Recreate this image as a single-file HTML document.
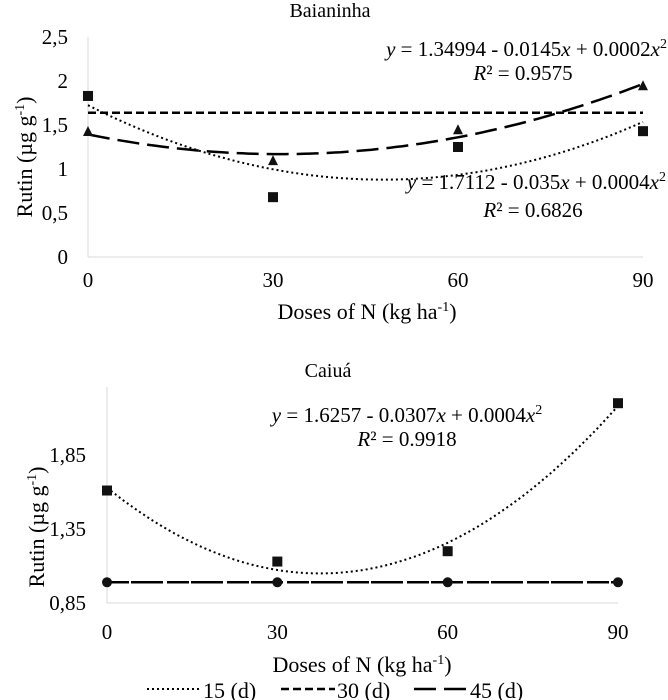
<!DOCTYPE html>
<html><head><meta charset="utf-8">
<style>
html,body{margin:0;padding:0;background:#fff;}
svg{display:block;font-family:"Liberation Serif",serif;}
</style></head>
<body>
<svg id="c" width="668" height="700" viewBox="0 0 668 700"></svg>
<script>
const doses=[0,30,60,90];
const baiTicks=[0,0.5,1,1.5,2,2.5];
const baiTickLabels=["0","0,5","1","1,5","2","2,5"];
const bai15=[1.83,0.68,1.25,1.43];
const bai30=[1.64,1.64,1.64,1.64];
const bai45=[1.42,1.09,1.44,1.94];
const caiTicks=[0.85,1.35,1.85];
const caiTickLabels=["0,85","1,35","1,85"];
const cai15=[1.61,1.13,1.20,2.20];
const cai30=[0.99,0.99,0.99,0.99];
const cai45=[0.99,0.99,0.99,0.99];

const NS="http://www.w3.org/2000/svg";
const svg=document.getElementById('c');
function el(t,a,p){const e=document.createElementNS(NS,t);for(const k in a)e.setAttribute(k,a[k]);(p||svg).appendChild(e);return e;}
function txt(s,a,p){const e=el('text',a,p);e.textContent=s;return e;}
function fit(xs,ys){
  let S=[[0,0,0],[0,0,0],[0,0,0]],B=[0,0,0];
  for(let i=0;i<xs.length;i++){const v=[1,xs[i],xs[i]*xs[i]];for(let r=0;r<3;r++){B[r]+=v[r]*ys[i];for(let c=0;c<3;c++)S[r][c]+=v[r]*v[c];}}
  for(let i=0;i<3;i++){for(let j=i+1;j<3;j++){const f=S[j][i]/S[i][i];for(let k=0;k<3;k++)S[j][k]-=f*S[i][k];B[j]-=f*B[i];}}
  const c=[0,0,0];for(let i=2;i>=0;i--){let s=B[i];for(let k=i+1;k<3;k++)s-=S[i][k]*c[k];c[i]=s/S[i][i];}
  return x=>c[0]+c[1]*x+c[2]*x*x;
}
function curve(f,X,Y,dash,w,name,g){
  let d="";for(let x=0;x<=90;x+=1){d+=(x?"L":"M")+X(x).toFixed(1)+","+Y(f(x)).toFixed(1);}
  const p=el('path',{d:d,fill:"none",stroke:"#000","stroke-width":w,"stroke-dasharray":dash},g);
  
  
}
function square(x,y,name,g){const r=el('rect',{x:x-5,y:y-5,width:10,height:10,fill:"#111"},g);
  }
function tri(x,y,name,g){const r=el('polygon',{points:`${x},${y-6} ${x-5},${y+4} ${x+5},${y+4}`,fill:"#111"},g);
  }
function circ(x,y,name,g){const r=el('circle',{cx:x,cy:y,r:5,fill:"#111"},g);
  }
const EQ15='<tspan font-style="italic">y</tspan> = ';

// ---- Top chart ----
(function(){
  const g=el('g',{});
  const x0=88,x1=643,yb=257,yt=37,vmax=2.5;
  const X=v=>x0+(x1-x0)*v/90, Y=v=>yb-(yb-yt)*v/vmax;
  el('line',{x1:x0,y1:yt,x2:x0,y2:yb,stroke:"#d9d9d9"},g);
  el('line',{x1:x0,y1:yb,x2:x1,y2:yb,stroke:"#d9d9d9"},g);
  const t=txt("Baianinha",{x:330,y:17,"text-anchor":"middle","font-size":20},g);
  baiTicks.forEach((v,i)=>{const e=txt(baiTickLabels[i],{x:68,y:Y(v)+7,"text-anchor":"end","font-size":21},g);});
  doses.forEach(d=>{const e=txt(String(d),{x:X(d),y:287,"text-anchor":"middle","font-size":21},g);});
  const yt2=txt("",{transform:"translate(32,157) rotate(-90)","text-anchor":"middle","font-size":22},g);
  yt2.innerHTML='Rutin (µg g<tspan dy="-8" font-size="14">-1</tspan><tspan dy="8">)</tspan>';
  
  const xt=txt("",{x:367,y:319,"text-anchor":"middle","font-size":22},g);
  xt.innerHTML='Doses of N (kg ha<tspan dy="-8" font-size="14">-1</tspan><tspan dy="8">)</tspan>';
  
  curve(x=>bai30[0],X,Y,"8,4",2.5,'trend-30d',g);
  curve(fit(doses,bai15),X,Y,"2,3",2,'trend-15d',g);
  curve(fit(doses,bai45),X,Y,"22,8",2.5,'trend-45d',g);
  doses.forEach((d,i)=>square(X(d),Y(bai15[i]),'point-15d',g));
  doses.forEach((d,i)=>tri(X(d),Y(bai45[i]),'point-45d',g));
  const e1=txt("",{x:667,y:56,"text-anchor":"end","font-size":21},g);
  e1.innerHTML=EQ15+'1.34994 - 0.0145<tspan font-style="italic">x</tspan> + 0.0002<tspan font-style="italic">x</tspan><tspan dy="-8" font-size="14">2</tspan>';
  
  const r1=txt("",{x:523,y:80,"text-anchor":"middle","font-size":21},g);
  r1.innerHTML='<tspan font-style="italic">R</tspan>² = 0.9575';
  const e2=txt("",{x:666,y:189,"text-anchor":"end","font-size":21},g);
  e2.innerHTML=EQ15+'1.7112 - 0.035<tspan font-style="italic">x</tspan> + 0.0004<tspan font-style="italic">x</tspan><tspan dy="-8" font-size="14">2</tspan>';
  
  const r2=txt("",{x:533,y:217,"text-anchor":"middle","font-size":21},g);
  r2.innerHTML='<tspan font-style="italic">R</tspan>² = 0.6826';
})();

// ---- Bottom chart ----
(function(){
  const g=el('g',{});
  const x0=107,x1=618,yb=603,vmin=0.85,ppu=148,yt=387;
  const X=v=>x0+(x1-x0)*v/90, Y=v=>yb-(v-vmin)*ppu;
  el('line',{x1:x0,y1:yt,x2:x0,y2:yb,stroke:"#d9d9d9"},g);
  el('line',{x1:x0,y1:yb,x2:x1,y2:yb,stroke:"#d9d9d9"},g);
  const t=txt("Caiuá",{x:328,y:377,"text-anchor":"middle","font-size":20},g);
  caiTicks.forEach((v,i)=>{const e=txt(caiTickLabels[i],{x:86,y:Y(v)+7,"text-anchor":"end","font-size":21},g);});
  doses.forEach(d=>{const e=txt(String(d),{x:X(d),y:639,"text-anchor":"middle","font-size":21},g);});
  const yt2=txt("",{transform:"translate(44,527) rotate(-90)","text-anchor":"middle","font-size":22},g);
  yt2.innerHTML='Rutin (µg g<tspan dy="-8" font-size="14">-1</tspan><tspan dy="8">)</tspan>';
  
  const xt=txt("",{x:362,y:672,"text-anchor":"middle","font-size":22},g);
  xt.innerHTML='Doses of N (kg ha<tspan dy="-8" font-size="14">-1</tspan><tspan dy="8">)</tspan>';
  
  curve(x=>cai45[0],X,Y,"22,8",2.5,'trend-45d',g);
  curve(x=>cai30[0],X,Y,"8,4",2.5,'trend-30d',g);
  curve(fit(doses,cai15),X,Y,"2,3",2,'trend-15d',g);
  doses.forEach((d,i)=>square(X(d),Y(cai15[i]),'point-15d',g));
  doses.forEach((d,i)=>circ(X(d),Y(cai45[i]),'point-45d',g));
  const e1=txt("",{x:407,y:422,"text-anchor":"middle","font-size":21},g);
  e1.innerHTML=EQ15+'1.6257 - 0.0307<tspan font-style="italic">x</tspan> + 0.0004<tspan font-style="italic">x</tspan><tspan dy="-8" font-size="14">2</tspan>';
  
  const r1=txt("",{x:407,y:446,"text-anchor":"middle","font-size":21},g);
  r1.innerHTML='<tspan font-style="italic">R</tspan>² = 0.9918';
})();

// ---- Legend ----
(function(){
  const g=el('g',{});
  const items=[["15 (d)",147,"2,3",2],["30 (d)",281,"8,4",2.5],["45 (d)",414,"22,8",2.5]];
  items.forEach(it=>{
    const sg=el('g',{},g);
    el('line',{x1:it[1],y1:689,x2:it[1]+54,y2:689,stroke:"#000","stroke-width":it[3],"stroke-dasharray":it[2]},sg);
    txt(it[0],{x:it[1]+56,y:698,"font-size":22},sg);
  });
})();
</script>
</body></html>
